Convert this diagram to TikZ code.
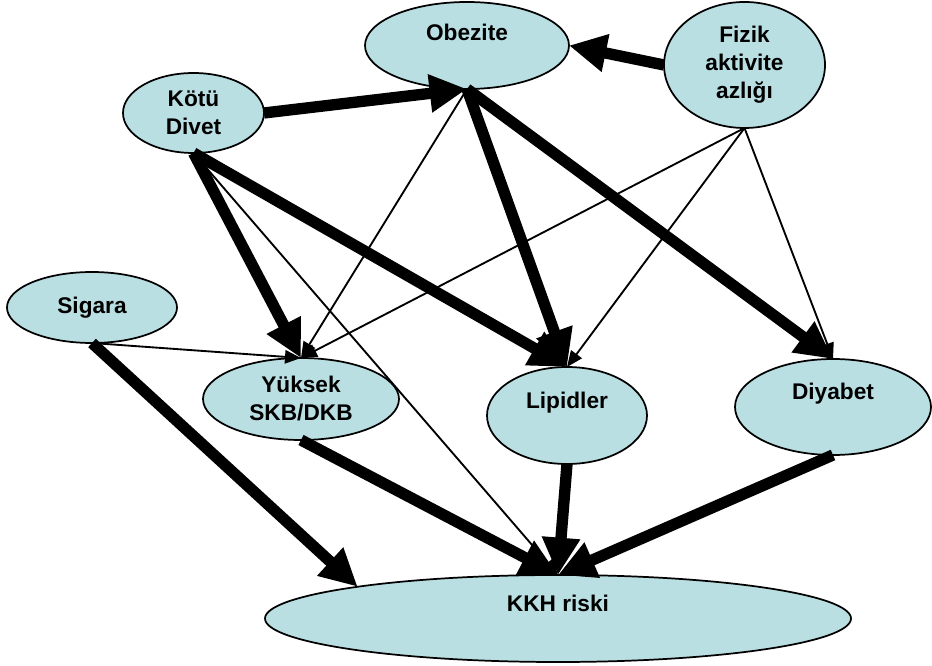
\documentclass[tikz,border=0pt]{standalone}
\usepackage{fontspec}
\setmainfont{Liberation Sans}
\usetikzlibrary{shapes.geometric,arrows.meta}
\definecolor{nodefill}{RGB}{185,223,227}

\begin{document}
\begin{tikzpicture}[x=0.75pt,y=-0.75pt,
	factor/.style={draw=black, ellipse, fill=nodefill, line width=1.3pt, inner sep=0pt, outer sep=0pt, align=center, font=\fontsize{17}{21}\selectfont\bfseries},
	heavy/.style={-{Triangle[length=28pt,width=27pt]}, line width=8.5pt},
	light/.style={-{Triangle[length=12pt,width=10pt]}, line width=1.4pt}]
	\useasboundingbox (0,0) rectangle (932,666);
	\node[factor, minimum width=153pt, minimum height=65.25pt] (obez) at (467,45.5) {Obezite\\[-8pt]\strut};
	\node[factor, minimum width=120.75pt, minimum height=94.5pt] (fizik) at (744.5,65) {Fizik\\aktivite\\azlığı};
	\node[factor, minimum width=105.75pt, minimum height=60pt] (kotu) at (193.5,113) {Kötü\\Divet};
	\node[factor, minimum width=127.5pt, minimum height=53.25pt] (sigara) at (92,307.5) {Sigara};
	\node[factor, minimum width=147pt, minimum height=61.5pt] (yuksek) at (301,399) {Yüksek\\SKB/DKB};
	\node[factor, minimum width=120pt, minimum height=72.75pt] (lipid) at (567,415.5) {Lipidler\\[-4pt]\strut};
	\node[factor, minimum width=147pt, minimum height=72pt] (diyabet) at (833,407) {Diyabet\\[-3pt]\strut};
	\node[factor, minimum width=439.5pt, minimum height=65.25pt] (kkh) at (558,618.5) {KKH riski\\[-5pt]\strut};

	\draw[heavy] (kotu.east) -- (obez.south);
	\draw[heavy] (fizik.west) -- (obez.east);
	\draw[heavy] (kotu.south) -- (yuksek.north);
	\draw[heavy] (kotu.south) -- (lipid.north);
	\draw[light] (kotu.south) -- (kkh.north);
	\draw[light] (obez.south) -- (yuksek.north);
	\draw[heavy] (obez.south) -- (lipid.north);
	\draw[heavy] (obez.south) -- (diyabet.north);
	\draw[light] (fizik.south) -- (yuksek.north);
	\draw[light] (fizik.south) -- (lipid.north);
	\draw[light] (fizik.south) -- (diyabet.north);
	\draw[light] (sigara.south) -- (yuksek.north);
	\draw[heavy] (sigara.south) -- (kkh.171);
	\draw[heavy] (yuksek.south) -- (kkh.north);
	\draw[heavy] (lipid.south) -- (kkh.north);
	\draw[heavy] (diyabet.south) -- (kkh.north);
\end{tikzpicture}
\end{document}
